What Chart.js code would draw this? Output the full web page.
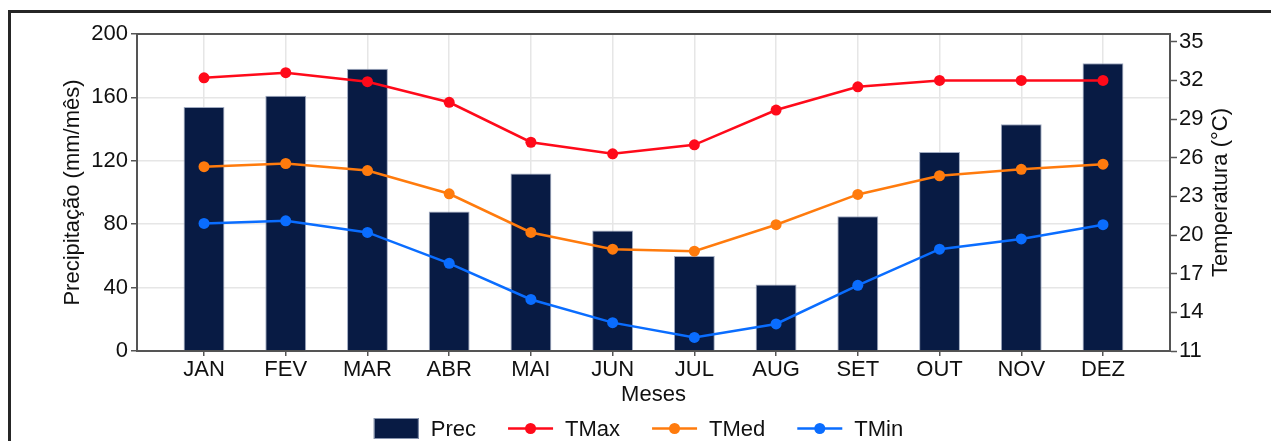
<!DOCTYPE html>
<html>
<head>
<meta charset="utf-8">
<script src="https://cdn.jsdelivr.net/npm/chart.js@4.4.0/dist/chart.umd.min.js"></script>
<style>
  html, body { margin: 0; padding: 0; background: #ffffff; }
  canvas { display: block; }
</style>
</head>
<body>
<canvas id="climograma" width="1271" height="441"></canvas>
<script>
// Monthly climate normals
const months = ['JAN', 'FEV', 'MAR', 'ABR', 'MAI', 'JUN', 'JUL', 'AUG', 'SET', 'OUT', 'NOV', 'DEZ'];
const prec = [154, 161, 178, 88, 112, 76, 60, 42, 85, 125.5, 143, 181.5];          // mm/mês
const tMax = [32.2, 32.6, 31.9, 30.3, 27.2, 26.3, 27.0, 29.7, 31.5, 32.0, 32.0, 32.0]; // °C
const tMed = [25.3, 25.55, 25.0, 23.2, 20.2, 18.9, 18.75, 20.8, 23.15, 24.6, 25.1, 25.5];
const tMin = [20.9, 21.1, 20.2, 17.8, 15.0, 13.2, 12.05, 13.1, 16.1, 18.9, 19.7, 20.8];
const precTicks = [0, 40, 80, 120, 160, 200];
const tempTicks = [11, 14, 17, 20, 23, 26, 29, 32, 35];

const FONT = 'Liberation Sans, Arial, Helvetica, sans-serif';
const FS = 22;
const AXIS = '#555555';
const GRID = '#e6e6e6';
const TEXT = '#111111';

const COLORS = {
  prec: 'rgba(0, 20, 62, 0.97)',
  precEdge: 'rgba(150, 162, 186, 0.9)',
  tMax: '#ff0a1a',
  tMed: '#ff7b0d',
  tMin: '#0a6dff'
};

const xy = arr => arr.map((v, i) => ({ x: i, y: v }));

// frame, plot box, right-hand title and bottom legend
const decorations = {
  id: 'decorations',
  beforeDraw(chart) {
    const ctx = chart.ctx;
    ctx.save();
    ctx.fillStyle = '#ffffff';
    ctx.fillRect(0, 0, chart.width, chart.height);
    ctx.strokeStyle = '#262626';
    ctx.lineWidth = 3;
    ctx.beginPath();
    ctx.moveTo(9.5, chart.height + 2);
    ctx.lineTo(9.5, 11.5);
    ctx.lineTo(chart.width + 2, 11.5);
    ctx.stroke();
    ctx.restore();
  },
  afterDraw(chart) {
    const ctx = chart.ctx;
    const a = chart.chartArea;
    ctx.save();
    // top edge of the plot box
    ctx.strokeStyle = AXIS;
    ctx.lineWidth = 2;
    ctx.beginPath();
    ctx.moveTo(a.left - 1, a.top);
    ctx.lineTo(a.right + 1, a.top);
    ctx.stroke();

    // right axis title, reading bottom to top
    ctx.fillStyle = TEXT;
    ctx.font = FS + 'px ' + FONT;
    ctx.textAlign = 'center';
    ctx.textBaseline = 'middle';
    ctx.translate(1221, (a.top + a.bottom) / 2);
    ctx.rotate(-Math.PI / 2);
    ctx.fillText('Temperatura (°C)', 0, 0);
    ctx.restore();

    // legend
    const items = chart.data.datasets.map(ds => ({ label: ds.label, type: ds.type, color: ds.type === 'bar' ? ds.backgroundColor : ds.borderColor }));
    ctx.save();
    ctx.font = FS + 'px ' + FONT;
    const symW = 45, symH = 21, textGap = 12, itemGap = 32;
    const widths = items.map(it => symW + textGap + ctx.measureText(it.label).width);
    const total = widths.reduce((s, w) => s + w, 0) + itemGap * (items.length - 1);
    let x = chart.width / 2 + 3 - total / 2;
    const cy = 428.5;
    items.forEach((it, i) => {
      if (it.type === 'bar') {
        ctx.fillStyle = it.color;
        ctx.fillRect(x, cy - symH / 2, symW, symH);
        ctx.strokeStyle = COLORS.precEdge;
        ctx.lineWidth = 1;
        ctx.strokeRect(x + 0.5, cy - symH / 2 + 0.5, symW - 1, symH - 1);
      } else {
        ctx.strokeStyle = it.color;
        ctx.lineWidth = 2.5;
        ctx.beginPath();
        ctx.moveTo(x, cy);
        ctx.lineTo(x + symW, cy);
        ctx.stroke();
        ctx.fillStyle = it.color;
        ctx.beginPath();
        ctx.arc(x + symW / 2, cy, 5.5, 0, Math.PI * 2);
        ctx.fill();
      }
      ctx.fillStyle = TEXT;
      ctx.textAlign = 'left';
      ctx.textBaseline = 'middle';
      ctx.fillText(it.label, x + symW + textGap, cy + 1);
      x += widths[i] + itemGap;
    });
    ctx.restore();
  }
};

const lineDataset = (label, values, color) => ({
  type: 'line',
  label,
  data: xy(values),
  yAxisID: 'yTemp',
  borderColor: color,
  backgroundColor: color,
  borderWidth: 2.5,
  pointRadius: 5.5,
  pointBorderWidth: 0,
  pointBackgroundColor: color,
  tension: 0,
  order: 0
});

new Chart(document.getElementById('climograma'), {
  data: {
    datasets: [
      {
        type: 'bar',
        label: 'Prec',
        data: xy(prec),
        yAxisID: 'yPrec',
        backgroundColor: COLORS.prec,
        borderColor: COLORS.precEdge,
        borderWidth: 1,
        barPercentage: 0.5,
        categoryPercentage: 1,
        order: 1
      },
      lineDataset('TMax', tMax, COLORS.tMax),
      lineDataset('TMed', tMed, COLORS.tMed),
      lineDataset('TMin', tMin, COLORS.tMin)
    ]
  },
  options: {
    responsive: false,
    animation: false,
    events: [],
    layout: { padding: { top: 34, right: 0, bottom: 0, left: 0 } },
    plugins: {
      legend: { display: false },
      tooltip: { enabled: false }
    },
    scales: {
      x: {
        type: 'linear',
        position: 'bottom',
        offset: false,
        min: -0.82,
        max: 11.82,
        afterBuildTicks(scale) { scale.ticks = months.map((m, i) => ({ value: i })); },
        afterFit(scale) { scale.height = 90; },
        ticks: {
          callback: v => months[v],
          color: TEXT,
          font: { family: FONT, size: FS },
          padding: 1,
          maxRotation: 0,
          autoSkip: false
        },
        grid: { offset: false, color: GRID, lineWidth: 1.5, tickColor: AXIS, tickWidth: 1.5, tickLength: 5 },
        border: { display: true, color: AXIS, width: 2 },
        title: {
          display: true,
          text: 'Meses',
          color: TEXT,
          font: { family: FONT, size: FS },
          padding: { top: 0, bottom: 33 }
        }
      },
      yPrec: {
        type: 'linear',
        position: 'left',
        min: 0,
        max: 200,
        afterBuildTicks(scale) { scale.ticks = precTicks.map(v => ({ value: v })); },
        afterFit(scale) { scale.width = 137; },
        ticks: { color: TEXT, font: { family: FONT, size: FS }, padding: 3 },
        grid: { color: GRID, lineWidth: 1.5, tickColor: AXIS, tickWidth: 1.5, tickLength: 6 },
        border: { display: true, color: AXIS, width: 2 },
        title: {
          display: true,
          text: 'Precipitação (mm/mês)',
          color: TEXT,
          font: { family: FONT, size: FS },
          padding: { top: 60, bottom: 0 }
        }
      },
      yTemp: {
        type: 'linear',
        position: 'right',
        min: 11,
        max: 35.6,
        afterBuildTicks(scale) { scale.ticks = tempTicks.map(v => ({ value: v })); },
        afterFit(scale) { scale.width = 101; },
        ticks: { color: TEXT, font: { family: FONT, size: FS }, padding: 2 },
        grid: { drawOnChartArea: false, tickColor: AXIS, tickWidth: 1.5, tickLength: 7 },
        border: { display: true, color: AXIS, width: 2 }
      }
    }
  },
  plugins: [decorations]
});
</script>
</body>
</html>
